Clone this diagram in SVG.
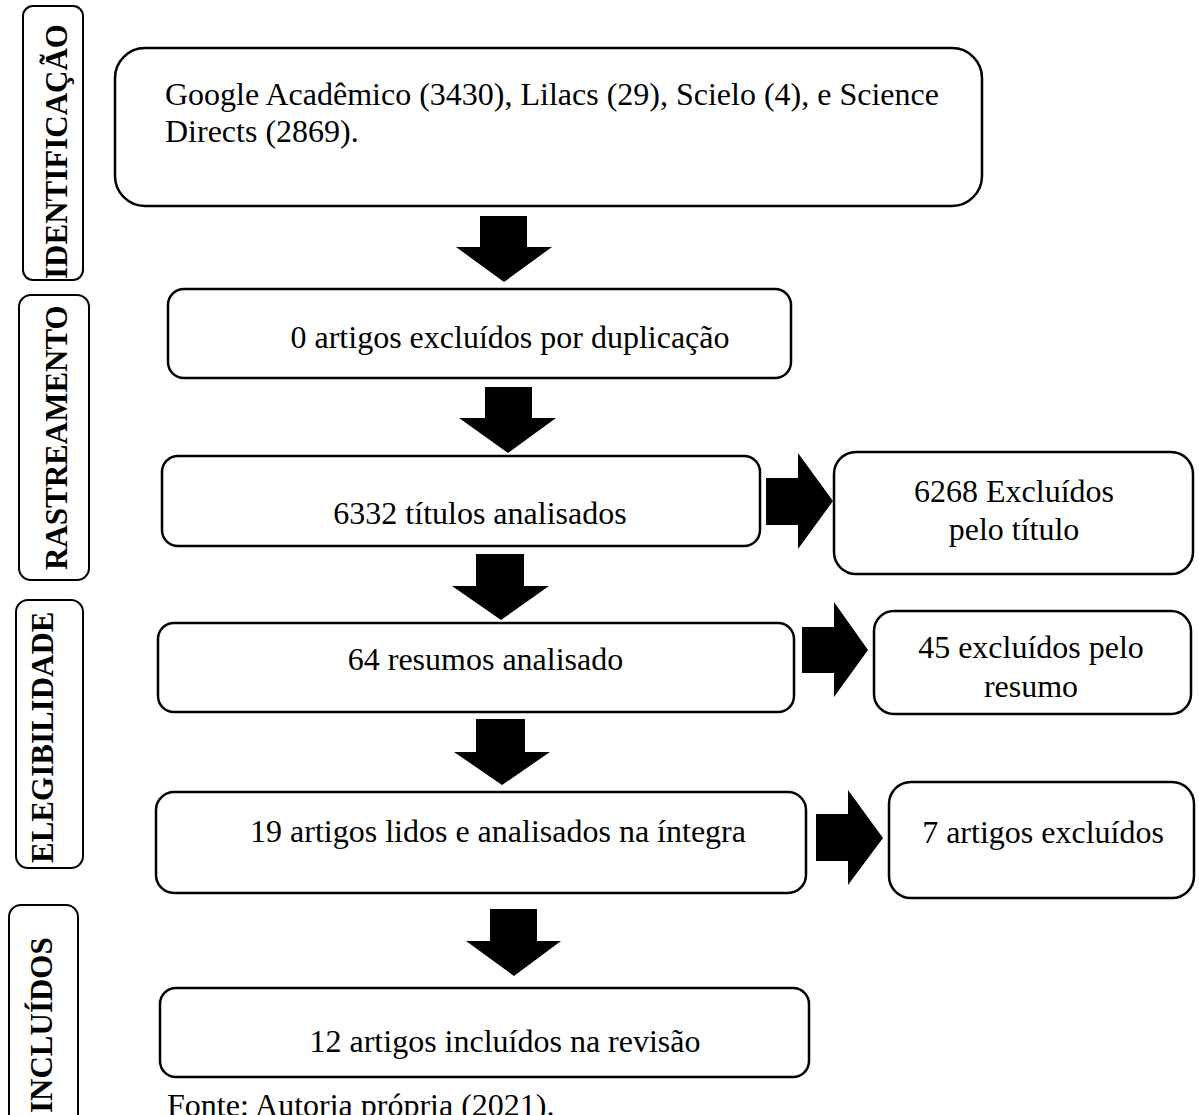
<svg xmlns="http://www.w3.org/2000/svg" width="1199" height="1115" viewBox="0 0 1199 1115">
<style>
.box{fill:#fff;stroke:#000;stroke-width:2.5}
.lab{fill:#fff;stroke:#000;stroke-width:2}
.t{font-family:"Liberation Serif","Times New Roman",serif;font-size:32px;fill:#000}
.c{text-anchor:middle}
.v{font-family:"Liberation Serif","Times New Roman",serif;font-size:31px;font-weight:bold;fill:#000}
.arr{fill:#000}
</style>
<rect width="1199" height="1115" fill="#fff"/>
<g id="stage-identificacao">
<rect class="lab" x="23" y="6" width="60" height="274" rx="10"/>
<text class="v" transform="translate(67,279) rotate(-90)">IDENTIFICAÇÃO</text>
</g>
<g id="stage-rastreamento">
<rect class="lab" x="19" y="295" width="70" height="285" rx="12"/>
<text class="v" transform="translate(67,570) rotate(-90)">RASTREAMENTO</text>
</g>
<g id="stage-elegibilidade">
<rect class="lab" x="16" y="600" width="67" height="268" rx="12"/>
<text class="v" transform="translate(53,863) rotate(-90)">ELEGIBILIDADE</text>
</g>
<g id="stage-incluidos">
<rect class="lab" x="9" y="905" width="69" height="230" rx="12"/>
<text class="v" transform="translate(52,1113) rotate(-90)">INCLUÍDOS</text>
</g>
<g id="n-identificacao">
<rect class="box" x="115" y="48" width="867" height="158" rx="30"/>
<text class="t" x="165" y="105">Google Acadêmico (3430), Lilacs (29), Scielo (4), e Science</text>
<text class="t" x="165" y="142">Directs (2869).</text>
</g>
<g id="n-duplicacao">
<rect class="box" x="168" y="289" width="623" height="89" rx="16"/>
<text class="t c" x="510" y="348">0 artigos excluídos por duplicação</text>
</g>
<g id="n-titulos">
<rect class="box" x="162" y="456" width="598" height="90" rx="16"/>
<text class="t c" x="480" y="524">6332 títulos analisados</text>
</g>
<g id="n-excl-titulo">
<rect class="box" x="834" y="452" width="359" height="122" rx="22"/>
<text class="t c" x="1014" y="502">6268 Excluídos</text>
<text class="t c" x="1014" y="540">pelo título</text>
</g>
<g id="n-resumos">
<rect class="box" x="158" y="623" width="636" height="89" rx="16"/>
<text class="t c" x="485.5" y="670">64 resumos analisado</text>
</g>
<g id="n-excl-resumo">
<rect class="box" x="874" y="611" width="317" height="103" rx="20"/>
<text class="t c" x="1031" y="658">45 excluídos pelo</text>
<text class="t c" x="1031" y="697">resumo</text>
</g>
<g id="n-integra">
<rect class="box" x="156" y="792" width="650" height="101" rx="18"/>
<text class="t c" x="498" y="842">19 artigos lidos e analisados na íntegra</text>
</g>
<g id="n-excl-integra">
<rect class="box" x="889" y="782" width="305" height="116" rx="22"/>
<text class="t c" x="1043" y="843">7 artigos excluídos</text>
</g>
<g id="n-incluidos">
<rect class="box" x="160" y="988" width="649" height="89" rx="16"/>
<text class="t c" x="505" y="1052">12 artigos incluídos na revisão</text>
</g>
<g id="connectors">
<polygon class="arr" points="480,216 527,216 527,247 552,247 504,282 456,247 480,247"/>
<polygon class="arr" points="485,387 532,387 532,418 556,418 508,453 459,418 485,418"/>
<polygon class="arr" points="476,554 524,554 524,586 549,586 501,620 452,586 476,586"/>
<polygon class="arr" points="476,719 525,719 525,752 550,752 502,785 454,752 476,752"/>
<polygon class="arr" points="490,909 537,909 537,941 561,941 514,976 466,941 490,941"/>
<polygon class="arr" points="766,478 798,478 798,453 833,501 798,549 798,525 766,525"/>
<polygon class="arr" points="802,627 834,627 834,602 868,650 834,697 834,673 802,673"/>
<polygon class="arr" points="816,814 848,814 848,790 883,838 848,885 848,861 816,861"/>
</g>
<text id="fonte" class="t" x="167" y="1116">Fonte: Autoria própria (2021).</text>
</svg>
